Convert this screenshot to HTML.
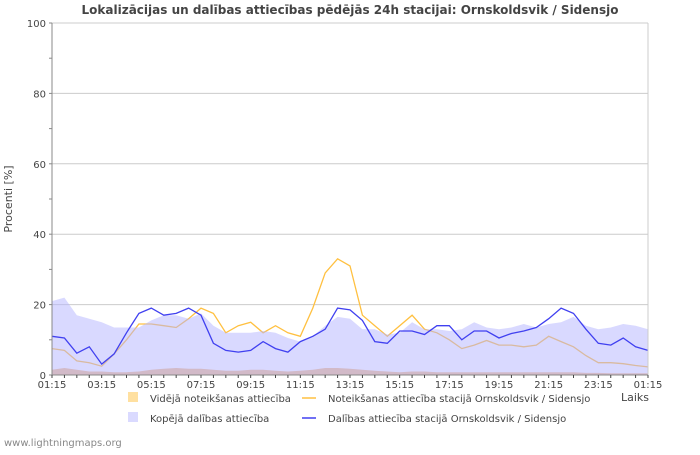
<!DOCTYPE html>
<html><head><meta charset="utf-8">
<style>
body{margin:0;background:#fff;font-family:"Liberation Sans","DejaVu Sans",sans-serif;}
svg text{font-family:"DejaVu Sans","Liberation Sans",sans-serif;}
</style></head>
<body>
<svg id="chart" width="700" height="450" xmlns="http://www.w3.org/2000/svg">
<rect width="700" height="450" fill="#fff"/>
<text x="350" y="14" text-anchor="middle" font-size="12" font-weight="bold" fill="#444">Lokalizācijas un dalības attiecības pēdējās 24h stacijai: Ornskoldsvik / Sidensjo</text>
<g id="grid"></g>
<g id="series"></g>
<g id="axes"></g>
<text transform="translate(12,199) rotate(-90)" text-anchor="middle" font-size="11" fill="#444">Procenti  [%]</text>
<text x="621" y="401" font-size="11" fill="#444">Laiks</text>
<g font-size="10" fill="#444">
<rect x="128" y="392" width="10" height="10" fill="#ffe0a0"/>
<text x="150" y="402">Vidējā noteikšanas attiecība</text>
<rect x="128" y="412" width="10" height="10" fill="#dadaff"/>
<text x="150" y="422">Kopējā dalības attiecība</text>
<line x1="302" y1="398" x2="316" y2="398" stroke="#ffc040" stroke-width="1.5"/>
<text x="328" y="402">Noteikšanas attiecība stacijā Ornskoldsvik / Sidensjo</text>
<line x1="302" y1="418" x2="316" y2="418" stroke="#4040f0" stroke-width="1.5"/>
<text x="328" y="422">Dalības attiecība stacijā Ornskoldsvik / Sidensjo</text>
</g>
<text x="4" y="446" font-size="10" fill="#888">www.lightningmaps.org</text>
</svg>
<script>
const xLabels=["01:15","03:15","05:15","07:15","09:15","11:15","13:15","15:15","17:15","19:15","21:15","23:15","01:15"];
const yTicks=[0,20,40,60,80,100];
const totalArea=[21,22,17,16,15,13.5,13.5,13.5,15.5,17,17,16,17.5,14,12,12,12,12.5,12,10.5,9.5,11,14,16.5,16,13,13,11.5,12,15,13,13,12.5,13,15,13.5,13,13.5,14.5,13.5,14.5,15,16.5,14,13,13.5,14.5,14,13];
const avgArea=[1.5,2,1.5,1,1,0.8,0.8,1,1.5,1.8,2,1.8,1.8,1.5,1.2,1.2,1.5,1.5,1.2,1,1.2,1.5,2,2,1.8,1.5,1.2,1,0.8,1,1,0.8,0.8,0.8,0.8,0.8,0.8,0.8,0.8,0.8,0.8,0.8,0.8,0.6,0.6,0.5,0.5,0.5,0.5];
const detectLine=[7.5,7,4,3.5,2.5,6,10,14.5,14.5,14,13.5,16,19,17.5,12,14,15,12,14,12,11,19,29,33,31,17,14,11,14,17,13,12,10,7.5,8.5,9.8,8.5,8.5,8,8.5,11,9.5,8,5.5,3.5,3.5,3.2,2.7,2.3];
const partLine=[11,10.5,6.2,8,3.1,6,12,17.5,19,17,17.5,19,17,9,7,6.5,7,9.5,7.5,6.5,9.5,11,13,19,18.5,15.5,9.5,9,12.5,12.5,11.5,14,14,10,12.5,12.5,10.5,11.8,12.5,13.5,16,19,17.5,13,9,8.5,10.5,8,7];

const X0=52,X1=648,Y0=375,Y1=23;
const NS="http://www.w3.org/2000/svg";
function xIdx(i,n){return X0+(X1-X0)*i/(n-1);}
function yVal(v){return Y0-(Y0-Y1)*v/100;}
function mk(tag,attrs,parent){const e=document.createElementNS(NS,tag);for(const k in attrs)e.setAttribute(k,attrs[k]);parent.appendChild(e);return e;}
const grid=document.getElementById('grid'),series=document.getElementById('series'),axes=document.getElementById('axes');

yTicks.forEach(t=>{
  if(t>0){const l=mk('line',{x1:X0,x2:X1,y1:yVal(t),y2:yVal(t),stroke:'#cccccc'},grid);
  
  }
  const tx=mk('text',{x:X0-6,y:yVal(t)+4,'text-anchor':'end','font-size':10,fill:'#444'},axes);
  tx.textContent=t;
  
  
});
for(let v=0;v<=100;v+=10){mk('line',{x1:X0-3,x2:X0,y1:yVal(v),y2:yVal(v),stroke:'#888'},axes);}

function areaPath(arr){let d='M'+X0+','+Y0;arr.forEach((v,i)=>{d+=' L'+xIdx(i,arr.length).toFixed(1)+','+yVal(v).toFixed(1);});return d+' L'+X1+','+Y0+' Z';}
function linePath(arr){return arr.map((v,i)=>(i?'L':'M')+xIdx(i,arr.length).toFixed(1)+','+yVal(v).toFixed(1)).join(' ');}

const a1=mk('path',{d:areaPath(avgArea),fill:'#f0c090'},series);


const l1=mk('path',{d:linePath(detectLine),fill:'none',stroke:'#ffc040','stroke-width':1.3},series);


const a2=mk('path',{d:areaPath(totalArea),fill:'#b4b4ff','fill-opacity':0.5},series);


const l2=mk('path',{d:linePath(partLine),fill:'none',stroke:'#4040f0','stroke-width':1.3},series);



mk('line',{x1:X0,x2:X0,y1:Y1,y2:Y0,stroke:'#888'},axes);
mk('line',{x1:X1,x2:X1,y1:Y1,y2:Y0,stroke:'#ccc'},axes);
mk('line',{x1:X0,x2:X1,y1:Y0,y2:Y0,stroke:'#888'},axes);
for(let h=0;h<=48;h++){const x=X0+(X1-X0)*h/48;mk('line',{x1:x,x2:x,y1:Y0,y2:Y0+3,stroke:'#444'},axes);}
xLabels.forEach((lab,i)=>{
  const t=mk('text',{x:xIdx(i,xLabels.length),y:Y0+13,'text-anchor':'middle','font-size':10,fill:'#444'},axes);
  t.textContent=lab;
  
  
});
</script>
</body></html>
